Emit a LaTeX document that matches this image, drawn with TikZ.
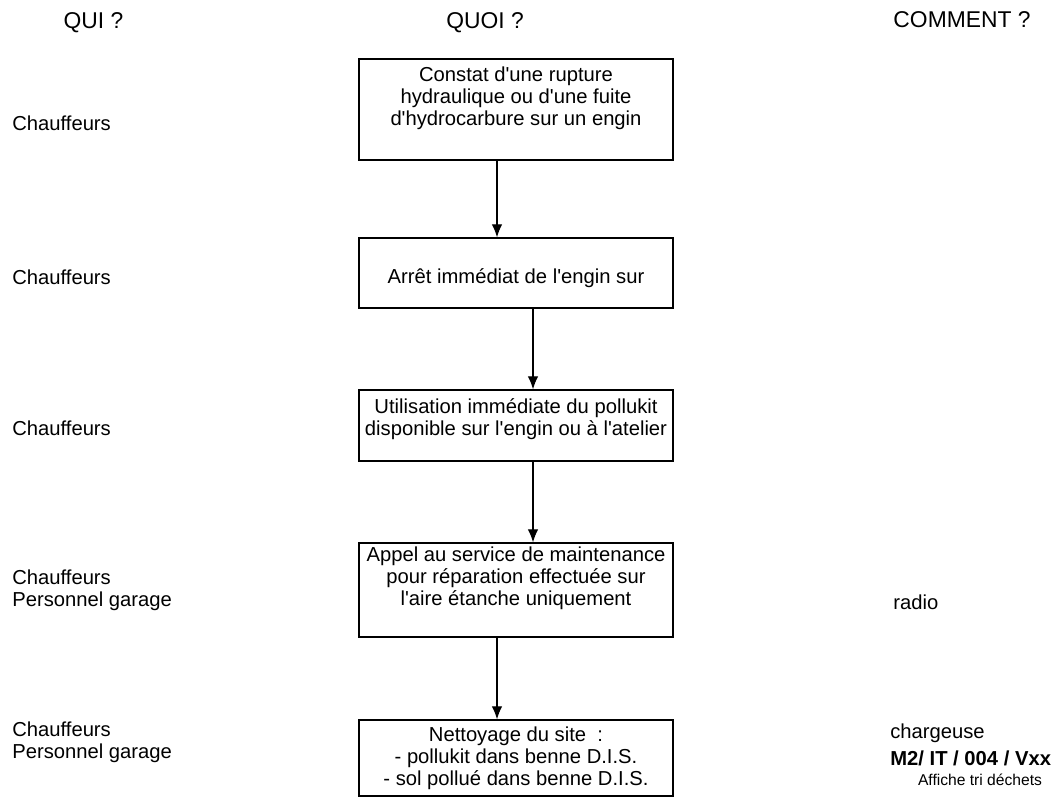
\documentclass[tikz,border=0pt]{standalone}
\usepackage{fontspec}
\setmainfont{Liberation Sans}
\usepackage{tikz}
\usetikzlibrary{positioning,arrows.meta}
\newcommand{\ap}{\textquotesingle}
\tikzset{
  etape/.style={draw, line width=0.8pt, minimum width=6.28cm, inner sep=0pt},
  texte/.style={align=center, inner sep=0pt, font=\fontsize{11.5}{12.5}\selectfont},
  lbl/.style={anchor=west, align=left, inner sep=0pt, font=\fontsize{11.5}{12.5}\selectfont},
  titre/.style={inner sep=0pt, font=\fontsize{13}{15}\selectfont},
  fleche/.style={-{Latex[length=2.6mm,width=2.1mm]}, line width=0.6pt}
}

\begin{document}
\begin{tikzpicture}
  \useasboundingbox (0,0) rectangle (21.2,15.96);
  % en-tetes
  \node[titre] (hqui) at (1.87,15.50) {QUI ?};
  \node[titre] (hquoi) at (9.70,15.50) {QUOI ?};
  \node[titre] (hcomment) at (19.24,15.57) {COMMENT ?};

  % etapes
  \node[etape, minimum height=2.02cm] (b1) at (10.32,13.77) {};
  \node[etape, minimum height=1.40cm] (b2) at (10.32,10.50) {};
  \node[etape, minimum height=1.42cm] (b3) at (10.32,7.45) {};
  \node[etape, minimum height=1.88cm] (b4) at (10.32,4.16) {};
  \node[etape, minimum height=1.52cm] (b5) at (10.32,0.80) {};
  \node[texte, below=0.16cm of b1.north] (t1)
        {Constat d\ap une rupture\\hydraulique ou d\ap une fuite\\d\ap hydrocarbure sur un engin};
  \node[texte, below=0.62cm of b2.north] (t2) {Arrêt immédiat de l\ap engin sur};
  \node[texte, below=0.18cm of b3.north] (t3)
        {Utilisation immédiate du pollukit\\disponible sur l\ap engin ou à l\ap atelier};
  \node[texte, below=0.08cm of b4.north] (t4)
        {Appel au service de maintenance\\pour réparation effectuée sur\\l\ap aire étanche uniquement};
  \node[texte, below=0.14cm of b5.north] (t5)
        {Nettoyage du site~~:\\- pollukit dans benne D.I.S.\\- sol pollué dans benne D.I.S.};

  \draw[fleche] ([xshift=-0.38cm]b1.south) -- ([xshift=-0.38cm]b2.north);
  \draw[fleche] ([xshift=0.34cm]b2.south) -- ([xshift=0.34cm]b3.north);
  \draw[fleche] ([xshift=0.34cm]b3.south) -- ([xshift=0.34cm]b4.north);
  \draw[fleche] ([xshift=-0.38cm]b4.south) -- ([xshift=-0.38cm]b5.north);

  % qui ?
  \node[lbl] (q1) at (0.24,13.50) {Chauffeurs};
  \node[lbl] (q2) at (0.24,10.42) {Chauffeurs};
  \node[lbl] (q3) at (0.24,7.40) {Chauffeurs};
  \node[lbl] (q4) at (0.24,4.16) {Chauffeurs\\Personnel garage};
  \node[lbl] (q5) at (0.24,1.11) {Chauffeurs\\Personnel garage};

  % comment ?
  \node[lbl] (c4) at (17.86,3.92) {radio};
  \node[lbl] (c5a) at (17.80,1.30) {chargeuse};
  \node[lbl, font=\fontsize{11.5}{12.5}\selectfont\bfseries] (c5b) at (17.80,0.80)
        {M2/ IT / 004 / Vxx};
  \node[inner sep=0pt, font=\fontsize{8.9}{10}\selectfont] (c5c) at (19.60,0.36)
        {Affiche tri déchets};
\end{tikzpicture}
\end{document}
